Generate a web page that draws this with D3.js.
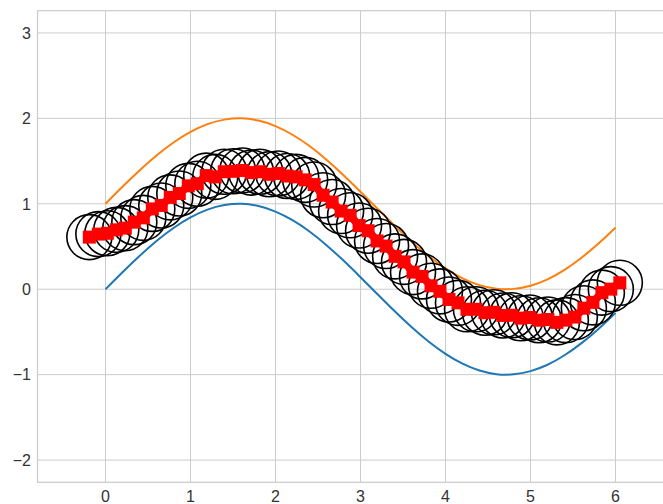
<!DOCTYPE html>
<html>
<head>
<meta charset="utf-8">
<script src="https://cdn.jsdelivr.net/npm/d3@7"></script>
<style>
  html, body { margin: 0; padding: 0; background: #ffffff; }
  svg { display: block; }
  text { font-family: "Liberation Sans", Arial, sans-serif; }
</style>
</head>
<body>
<svg id="chart" width="663" height="504"></svg>
<script>
// ---- data ----
const xTicks = [0, 1, 2, 3, 4, 5, 6];
const yTicks = [-2, -1, 0, 1, 2, 3];

const curveX = [0,0.2,0.4,0.6,0.8,1.0,1.2,1.4,1.6,1.8,2.0,2.2,2.4,2.6,2.8,3.0,3.2,3.4,3.6,3.8,4.0,4.2,4.4,4.6,4.8,5.0,5.2,5.4,5.6,5.8,6.0];
const blueY = [0,0.199,0.389,0.565,0.717,0.841,0.932,0.985,1.0,0.974,0.909,0.808,0.676,0.516,0.335,0.141,-0.058,-0.256,-0.443,-0.612,-0.757,-0.872,-0.952,-0.994,-0.996,-0.959,-0.884,-0.773,-0.631,-0.465,-0.279];
const orangeY = [1,1.199,1.389,1.565,1.717,1.841,1.932,1.985,2.0,1.974,1.909,1.808,1.676,1.516,1.335,1.141,0.942,0.744,0.557,0.388,0.243,0.128,0.048,0.006,0.004,0.041,0.116,0.227,0.369,0.535,0.721];

const pointX = [-0.19,-0.084,0.022,0.127,0.233,0.339,0.445,0.551,0.656,0.762,0.868,0.974,1.080,1.185,1.291,1.397,1.503,1.609,1.714,1.820,1.926,2.032,2.137,2.243,2.349,2.455,2.560,2.666,2.772,2.878,2.983,3.089,3.195,3.301,3.407,3.512,3.618,3.724,3.830,3.935,4.041,4.147,4.253,4.358,4.464,4.570,4.676,4.782,4.887,4.993,5.099,5.205,5.311,5.416,5.522,5.628,5.734,5.840,5.945,6.051];
const pointY = [0.61,0.645,0.655,0.695,0.715,0.785,0.835,0.94,0.98,1.075,1.12,1.21,1.235,1.33,1.315,1.375,1.38,1.39,1.365,1.375,1.345,1.355,1.325,1.315,1.28,1.225,1.10,1.02,0.915,0.865,0.745,0.685,0.565,0.505,0.385,0.32,0.20,0.15,0.04,-0.025,-0.12,-0.16,-0.235,-0.235,-0.275,-0.27,-0.307,-0.305,-0.339,-0.331,-0.363,-0.355,-0.388,-0.362,-0.326,-0.222,-0.154,-0.04,0.001,0.075];

(function () {
  const svg = d3.select("#chart");
  const pLeft = 37.5, pTop = 10.7, pBottom = 482.3;
  const x = d3.scaleLinear().domain([-0.8, 6.6]).range([pLeft, pLeft + 7.4 * 85]);
  const y = d3.scaleLinear().domain([-2.26, 3.26]).range([pBottom, pTop]);
  const pRight = x(6.6);

  const gridColor = "#cccccc";
  const textColor = "#333333";

  // grid
  svg.append("g").selectAll("line").data(xTicks).join("line")
    .attr("x1", d => x(d)).attr("x2", d => x(d))
    .attr("y1", pTop).attr("y2", pBottom)
    .attr("stroke", gridColor).attr("stroke-width", 1);
  svg.append("g").selectAll("line").data(yTicks).join("line")
    .attr("x1", pLeft).attr("x2", pRight)
    .attr("y1", d => y(d)).attr("y2", d => y(d))
    .attr("stroke", gridColor).attr("stroke-width", 1);

  // frame
  svg.append("rect")
    .attr("x", pLeft).attr("y", pTop)
    .attr("width", pRight - pLeft).attr("height", pBottom - pTop)
    .attr("fill", "none").attr("stroke", gridColor).attr("stroke-width", 1.25);

  // tick labels
  svg.append("g").selectAll("text").data(xTicks).join("text")
    .attr("x", d => x(d)).attr("y", 502)
    .attr("text-anchor", "middle")
    .attr("font-size", 16).attr("fill", textColor)
    .text(d => String(d).replace("-", "\u2212"));
  svg.append("g").selectAll("text").data(yTicks).join("text")
    .attr("x", 31).attr("y", d => y(d))
    .attr("dy", "0.36em")
    .attr("text-anchor", "end")
    .attr("font-size", 16).attr("fill", textColor)
    .text(d => String(d).replace("-", "\u2212"));

  // lines
  const lineGen = d3.line().curve(d3.curveNatural);
  svg.append("path")
    .attr("d", lineGen(curveX.map((v, i) => [x(v), y(blueY[i])])))
    .attr("fill", "none").attr("stroke", "#1f77b4").attr("stroke-width", 2);
  svg.append("path")
    .attr("d", lineGen(curveX.map((v, i) => [x(v), y(orangeY[i])])))
    .attr("fill", "none").attr("stroke", "#ff7f0e").attr("stroke-width", 2);

  // big hollow circles
  const pts = pointX.map((v, i) => [x(v), y(pointY[i])]);
  svg.append("g").selectAll("circle").data(pts).join("circle")
    .attr("cx", d => d[0]).attr("cy", d => d[1]).attr("r", 22.5)
    .attr("fill", "none").attr("stroke", "#000000").attr("stroke-width", 1.6);

  // red line with squares
  svg.append("path")
    .attr("d", d3.line()(pts))
    .attr("fill", "none").attr("stroke", "#ff0000").attr("stroke-width", 8)
    .attr("stroke-linejoin", "round");
  const sq = 13;
  svg.append("g").selectAll("rect").data(pts).join("rect")
    .attr("x", d => d[0] - sq / 2).attr("y", d => d[1] - sq / 2)
    .attr("width", sq).attr("height", sq)
    .attr("fill", "#ff0000");
})();
</script>
</body>
</html>
